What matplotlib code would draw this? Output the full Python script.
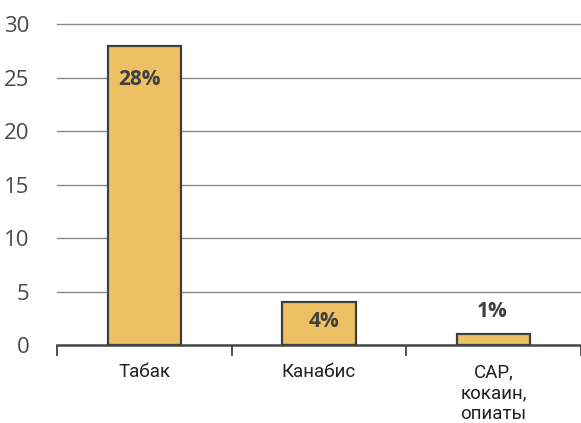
import matplotlib.pyplot as plt
import numpy as np

categories = ["Табак", "Канабис", "САР,\nкокаин,\nопиаты"]
values = [28, 4, 1]
labels = ["28%", "4%", "1%"]
yticks = [0, 5, 10, 15, 20, 25, 30]

fig = plt.figure(figsize=(5.81, 4.23), dpi=100)
ax = fig.add_axes([0.098, 0.184, 0.902, 0.759])

x = np.arange(len(categories)) + 0.5
ax.bar(x, values, width=0.42, color="#EDC163", edgecolor="#3f3f3f", linewidth=1.6, zorder=3)

ax.set_xlim(0, 3)
ax.set_ylim(0, 30)
ax.set_yticks(yticks)
ax.set_yticklabels([str(v) for v in yticks], fontsize=16, color="#4a4a4a", family="Open Sans")
ax.tick_params(axis="y", length=0, pad=20)

# boundaries ticks on x axis, labels at category centers
ax.set_xticks([0, 1, 2, 3])
ax.set_xticklabels([])
ax.tick_params(axis="x", direction="out", length=8, width=1.3, color="#444444")
ax.set_xticks(x, minor=True)
ax.set_xticklabels(categories, minor=True, fontsize=13.5, family="Roboto",
                   color="#222222", linespacing=1.2)
ax.tick_params(axis="x", which="minor", length=0, pad=13)

for v in yticks[1:]:
    ax.axhline(v, color="#8a8a8a", linewidth=1.0, zorder=1, clip_on=False)

for s in ["top", "right", "left"]:
    ax.spines[s].set_visible(False)
ax.spines["bottom"].set_color("#444444")
ax.spines["bottom"].set_linewidth(1.8)
ax.spines["bottom"].set_zorder(4)

# value labels (slightly off-center like the original)
for xi, dx, y, lab in zip(x, [-0.025, 0.03, -0.01], [24.8, 2.2, 3.1], labels):
    ax.text(xi + dx, y, lab, ha="center", va="center", fontsize=15, fontweight="bold",
            family="Open Sans", color="#3f3f3f", zorder=5)

fig.savefig("out.png", dpi=100)
